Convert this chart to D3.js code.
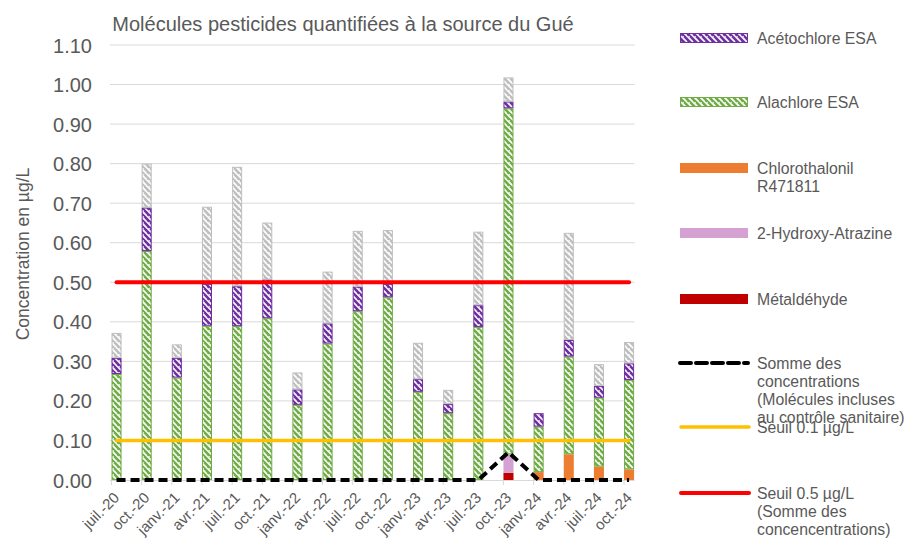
<!DOCTYPE html>
<html><head><meta charset="utf-8">
<script src="https://cdn.jsdelivr.net/npm/d3@7/dist/d3.min.js"></script>
<style>
body{margin:0;background:#fff;}
text{font-family:"Liberation Sans",Arial,sans-serif;fill:#595959;}
</style></head>
<body><svg id="c" width="905" height="540"></svg>
<script>
const categories = ["juil.-20","oct.-20","janv.-21","avr.-21","juil.-21","oct.-21","janv.-22","avr.-22","juil.-22","oct.-22","janv.-23","avr.-23","juil.-23","oct.-23","janv.-24","avr.-24","juil.-24","oct.-24"];
const metaldehyde     = [0,0,0,0,0,0,0,0,0,0,0,0,0,0.018,0,0,0,0];
const hydroxyAtrazine = [0,0,0,0,0,0,0,0,0,0,0,0,0,0.047,0,0,0,0];
const chlorothalonil  = [0,0,0,0,0,0,0,0,0,0,0,0,0,0,0.020,0.065,0.034,0.027];
const alachloreESA    = [0.268,0.579,0.259,0.390,0.389,0.409,0.190,0.345,0.427,0.462,0.223,0.169,0.387,0.875,0.115,0.247,0.174,0.226];
const acetochloreESA  = [0.041,0.110,0.050,0.106,0.101,0.098,0.039,0.051,0.062,0.034,0.032,0.023,0.055,0.017,0.034,0.042,0.030,0.042];
const autres          = [0.063,0.111,0.034,0.195,0.302,0.144,0.043,0.131,0.141,0.136,0.092,0.036,0.186,0.061,0,0.271,0.055,0.054];
const sommeConc       = [0,0,0,0,0,0,0,0,0,0,0,0,0,0.070,0,0,0,0];
const seuil01         = [0.1,0.1,0.1,0.1,0.1,0.1,0.1,0.1,0.1,0.1,0.1,0.1,0.1,0.1,0.1,0.1,0.1,0.1];
const seuil05         = [0.5,0.5,0.5,0.5,0.5,0.5,0.5,0.5,0.5,0.5,0.5,0.5,0.5,0.5,0.5,0.5,0.5,0.5];
const yTicks = [0,0.1,0.2,0.3,0.4,0.5,0.6,0.7,0.8,0.9,1.0,1.1];

const svg = d3.select("#c");
const x = d3.scaleBand().domain(categories).range([111.5, 111.5 + 18*30.15]).padding(0);
const bw = x.bandwidth()/3;
const cx = c => x(c) + bw/2;
const y = d3.scaleLinear().domain([0,1.1]).range([480,45]);
const plotL = 110, plotR = x(categories[17]) + bw + 0.5;

// patterns
const defs = svg.append("defs");
function hatch(id, color){
  const p = defs.append("pattern").attr("id", id).attr("patternUnits","userSpaceOnUse")
    .attr("width",6).attr("height",6);
  p.append("rect").attr("width",6).attr("height",6).attr("fill",color);
  p.append("path").attr("d","M-1.5,1.5 L3,6 M1.5,-1.5 L7.5,4.5 M4.5,-1.5 L7.5,1.5")
    .attr("stroke","#fff").attr("stroke-width",1.6);
}
hatch("hGreen","#70AD47");
hatch("hPurple","#7030A0");
hatch("hGray","#BFBFBF");

// title
svg.append("text").attr("x",343).attr("y",31).attr("text-anchor","middle")
  .style("font-size","20px").text("Molécules pesticides quantifiées à la source du Gué");

// gridlines
svg.append("g").selectAll("line").data(yTicks.slice(1)).join("line")
  .attr("x1",plotL).attr("x2",plotR).attr("y1",d=>y(d)).attr("y2",d=>y(d))
  .attr("stroke","#D9D9D9").attr("stroke-width",1);

// y axis labels
const yAxis = d3.axisLeft(y).tickValues(yTicks).tickFormat(d3.format(".2f")).tickSize(0).tickPadding(0);
const gy = svg.append("g").attr("transform","translate(92,0)").call(yAxis);
gy.select(".domain").remove();
gy.selectAll("text").style("font-size","20px").attr("fill","#595959").attr("dy","0.35em");

// y title
svg.append("text").attr("transform","translate(23,254) rotate(-90)").attr("text-anchor","middle")
  .attr("dy","0.35em").style("font-size","17.5px").text("Concentration en µg/L");

// x axis
svg.append("line").attr("x1",plotL).attr("x2",plotR).attr("y1",480.5).attr("y2",480.5)
  .attr("stroke","#D9D9D9");
svg.append("g").selectAll("line").data(categories).join("line")
  .attr("x1",d=>x(d)).attr("x2",d=>x(d)).attr("y1",480).attr("y2",485).attr("stroke","#D9D9D9");
svg.append("g").selectAll("text").data(categories).join("text")
  .attr("transform",d=>`translate(${cx(d)},495) rotate(-45)`)
  .attr("text-anchor","end").attr("dy","0.35em").style("font-size","15px").text(d=>d);

// stacked bars
const series = [
  {name:"Métaldéhyde", vals:metaldehyde, fill:"#C00000", stroke:null},
  {name:"2-Hydroxy-Atrazine", vals:hydroxyAtrazine, fill:"#D5A0D2", stroke:null},
  {name:"Chlorothalonil", vals:chlorothalonil, fill:"#ED7D31", stroke:null},
  {name:"Alachlore ESA", vals:alachloreESA, fill:"url(#hGreen)", stroke:"#70AD47"},
  {name:"Acétochlore ESA", vals:acetochloreESA, fill:"url(#hPurple)", stroke:"#7030A0"},
  {name:"Autres", vals:autres, fill:"url(#hGray)", stroke:"#BFBFBF"}
];
const table = categories.map((c,i)=>{const o={cat:c}; series.forEach(s=>o[s.name]=s.vals[i]); return o;});
const stack = d3.stack().keys(series.map(s=>s.name))(table);
const gb = svg.append("g");
stack.forEach((layer,k)=>{
  const s = series[k];
  gb.append("g").selectAll("rect").data(layer.filter(d=>d[1]-d[0]>0)).join("rect")
    .attr("x",d=>x(d.data.cat)+(s.stroke?0.5:0))
    .attr("width",bw-(s.stroke?1:0))
    .attr("y",d=>y(d[1])+(s.stroke?0.5:0))
    .attr("height",d=>Math.max(0,y(d[0])-y(d[1])-(s.stroke?1:0)))
    .attr("fill",s.fill).attr("stroke",s.stroke).attr("stroke-width",s.stroke?1:0);
});

// lines
const line = d3.line().x((d,i)=>cx(categories[i])).y(d=>y(d));
svg.append("path").attr("d",line(seuil01)).attr("fill","none").attr("stroke","#FFC000")
  .attr("stroke-width",3.5).attr("stroke-linecap","round");
svg.append("path").attr("d",line(seuil05)).attr("fill","none").attr("stroke","#FF0000")
  .attr("stroke-width",4).attr("stroke-linecap","round");
svg.append("path").attr("d",line(sommeConc)).attr("fill","none").attr("stroke","#000")
  .attr("stroke-width",4).attr("stroke-dasharray","9,5");

// legend
const lg = svg.append("g");
const legendItems = [
  {y:38, type:"pat", fill:"url(#hPurple)", stroke:"#7030A0", lines:["Acétochlore ESA"]},
  {y:102, type:"pat", fill:"url(#hGreen)", stroke:"#70AD47", lines:["Alachlore ESA"]},
  {y:168, type:"rect", fill:"#ED7D31", lines:["Chlorothalonil","R471811"]},
  {y:233, type:"rect", fill:"#D5A0D2", lines:["2-Hydroxy-Atrazine"]},
  {y:299, type:"rect", fill:"#C00000", lines:["Métaldéhyde"]},
  {y:363, type:"dash", lines:["Somme des","concentrations","(Molécules incluses","au contrôle sanitaire)"]},
  {y:427, type:"line", color:"#FFC000", w:3.5, lines:["Seuil 0.1 µg/L"]},
  {y:493, type:"line", color:"#FF0000", w:4, lines:["Seuil 0.5 µg/L","(Somme des","concencentrations)"]}
];
legendItems.forEach(it=>{
  if(it.type==="pat"){
    lg.append("rect").attr("x",680.5).attr("y",it.y-4.5).attr("width",67).attr("height",9)
      .attr("fill",it.fill).attr("stroke",it.stroke);
  } else if(it.type==="rect"){
    lg.append("rect").attr("x",680).attr("y",it.y-5).attr("width",68).attr("height",10).attr("fill",it.fill);
  } else if(it.type==="dash"){
    lg.append("line").attr("x1",680).attr("x2",748).attr("y1",it.y).attr("y2",it.y)
      .attr("stroke","#000").attr("stroke-width",4).attr("stroke-dasharray","11,5").attr("stroke-linecap","round");
  } else {
    lg.append("line").attr("x1",681).attr("x2",749).attr("y1",it.y).attr("y2",it.y)
      .attr("stroke",it.color).attr("stroke-width",it.w).attr("stroke-linecap","round");
  }
  const t = lg.append("text").attr("x",757).attr("y",it.y).attr("dy","0.35em").style("font-size","15.8px");
  it.lines.forEach((l,j)=>t.append("tspan").attr("x",757).attr("dy",j===0?"0.35em":"18.3").text(l));
});
</script></body></html>
